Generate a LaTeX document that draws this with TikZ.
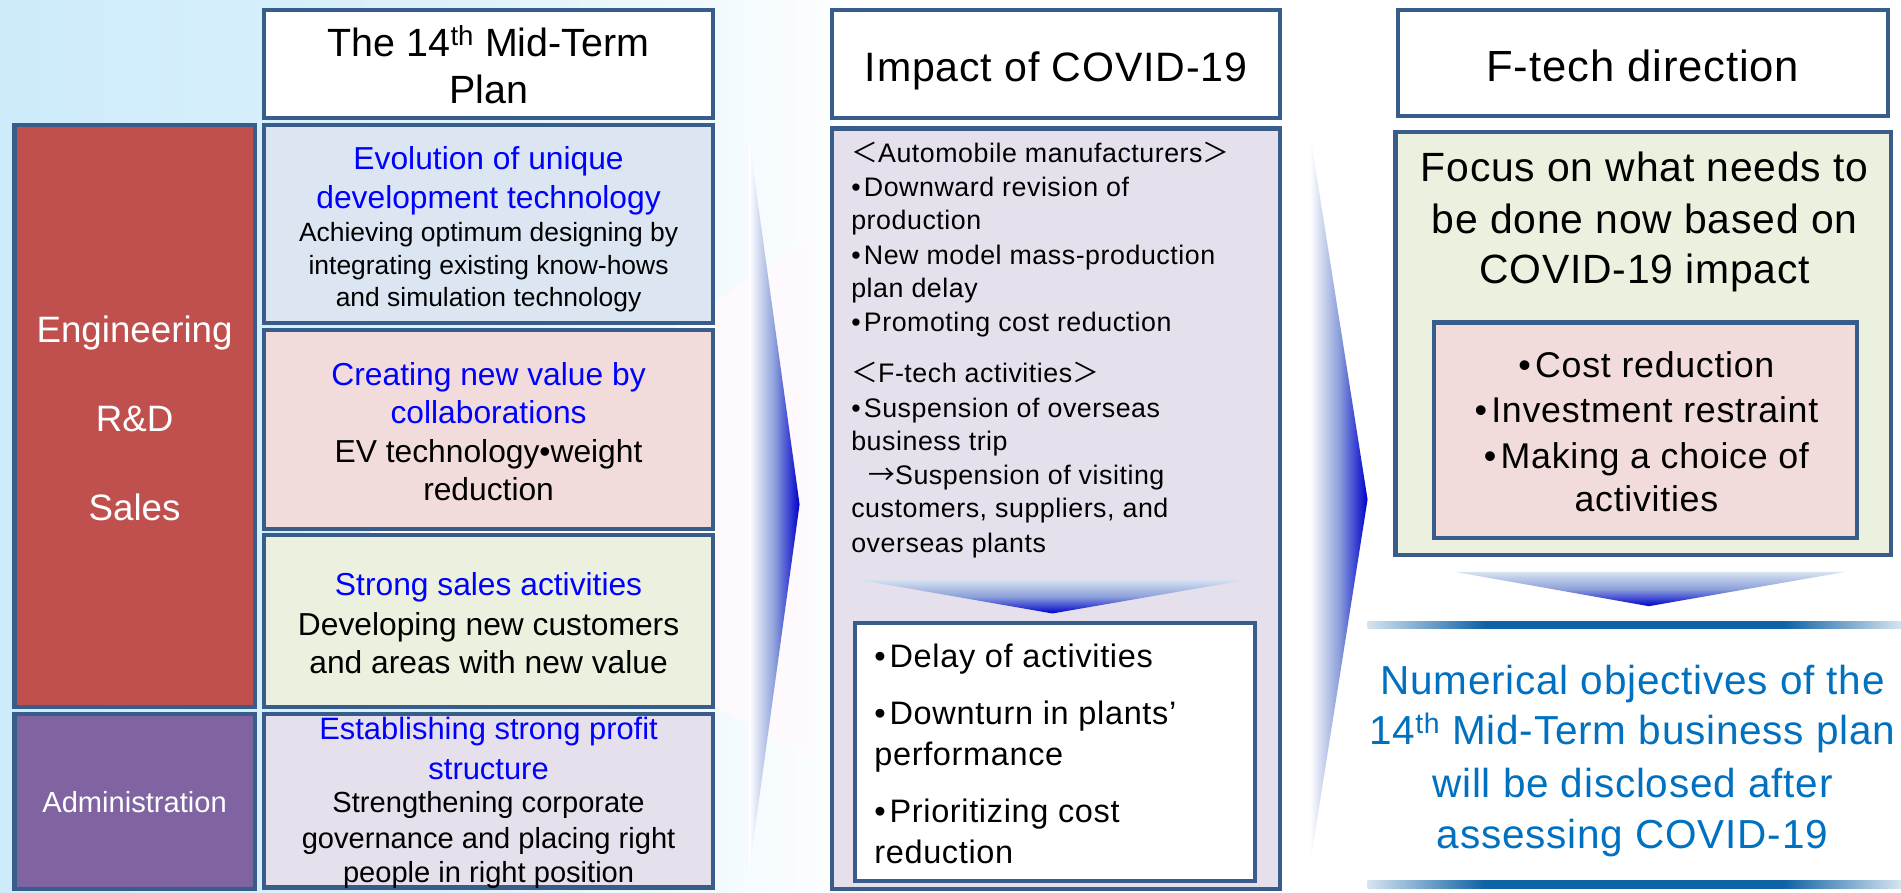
\documentclass[tikz,border=0pt]{standalone}
\usepackage{fontspec}
\setmainfont{Liberation Sans}
\newfontfamily\trackfont[LetterSpace=2]{Liberation Sans}
\newfontfamily\cjkfont{Noto Sans CJK JP}
\newcommand\bul{•\hspace{0.12em}}

\definecolor{edge}{RGB}{56,93,138}
\definecolor{redfill}{RGB}{192,80,77}
\definecolor{purplefill}{RGB}{128,100,162}
\definecolor{bluefill}{RGB}{220,230,242}
\definecolor{pinkfill}{RGB}{242,220,219}
\definecolor{greenfill}{RGB}{235,241,222}
\definecolor{lavfill}{RGB}{230,224,236}
\definecolor{headblue}{RGB}{0,0,255}
\definecolor{noteblue}{RGB}{0,112,192}
\definecolor{arrowblue}{RGB}{0,0,204}
\definecolor{chevmid}{RGB}{140,160,218}
\definecolor{chevtop}{RGB}{214,226,242}
\definecolor{bandblue}{RGB}{16,98,166}
\definecolor{bandpale}{RGB}{214,228,240}
\definecolor{skyblue}{RGB}{205,235,251}
\definecolor{pinkhaze}{RGB}{254,249,252}

\pgfdeclarehorizontalshading{skyfade}{100bp}{color(0bp)=(skyblue); color(25bp)=(skyblue); color(50bp)=(skyblue!70!white); color(75bp)=(white); color(100bp)=(white)}
\pgfdeclarehorizontalshading{bandshade}{100bp}{color(0bp)=(bandpale); color(25bp)=(bandpale); color(36bp)=(bandblue); color(64bp)=(bandblue); color(75bp)=(bandpale); color(100bp)=(bandpale)}

\tikzset{
  box/.style={draw=edge, line width=3.4pt, inner sep=0pt},
  lineC/.style={anchor=base, inner sep=0pt},
  lineL/.style={anchor=base west, inner sep=0pt},
  fs/.style={font=\fontsize{#1}{#1}\selectfont},
  trk/.style={font=\trackfont\fontsize{#1}{#1}\selectfont},
}

\begin{document}
\begin{tikzpicture}[x=1pt,y=-1pt]
  \useasboundingbox (0,0) rectangle (1568,736);
  % backdrop
  \fill[white] (0,0) rectangle (1568,736);
  \shade[shading=skyfade] (0,0) rectangle (720,736);
  \fill[pinkhaze] (300,436) -- (672,195) -- (672,625) -- cycle;

  % left column boxes
  \node[box, fill=white, minimum width=370pt, minimum height=89pt] (planbox) at (403,53) {};
  \node[box, fill=redfill, minimum width=198pt, minimum height=480.5pt] (engbox) at (111,343.25) {};
  \node[box, fill=purplefill, minimum width=198pt, minimum height=144pt] (adminbox) at (111,661) {};
  \node[box, fill=bluefill, minimum width=370pt, minimum height=163.6pt] (evobox) at (403,184.8) {};
  \node[box, fill=pinkfill, minimum width=370pt, minimum height=164.5pt] (collbox) at (403,354.25) {};
  \node[box, fill=greenfill, minimum width=370pt, minimum height=142.5pt] (salesbox) at (403,512.25) {};
  \node[box, fill=lavfill, minimum width=370pt, minimum height=143pt] (profbox) at (403,660.5) {};

  % middle column boxes
  \node[box, fill=white, minimum width=370pt, minimum height=89pt] (impbox) at (871,53) {};
  \node[box, fill=lavfill, minimum width=370pt, minimum height=627pt] (covbox) at (871,419.5) {};
  \node[box, fill=white, minimum width=330pt, minimum height=212.6pt] (effbox) at (870,620.3) {};

  % right column boxes
  \node[box, fill=white, minimum width=404pt, minimum height=87.6pt] (dirbox) at (1355,52.2) {};
  \node[box, fill=greenfill, minimum width=409pt, minimum height=348.7pt] (focbox) at (1355.5,283.35) {};
  \node[box, fill=pinkfill, minimum width=349pt, minimum height=177.6pt] (actbox) at (1357.5,354.8) {};

  % chevrons between the columns
  \coordinate (chevA1) at (618,116);   \coordinate (chevA2) at (659.5,416);  \coordinate (chevA3) at (618,718);
  \coordinate (chevB1) at (1080.5,110); \coordinate (chevB2) at (1128,412);  \coordinate (chevB3) at (1080.5,713.5);
  \shade[left color=white, right color=arrowblue, middle color=chevmid] (chevA1) -- (chevA2) -- (chevA3) -- cycle;
  \shade[left color=white, right color=arrowblue, middle color=chevmid] (chevB1) -- (chevB2) -- (chevB3) -- cycle;

  % downward chevrons
  \coordinate (downA1) at (707,478); \coordinate (downA2) at (1030,478); \coordinate (downA3) at (868,506);
  \coordinate (downB1) at (1200,471.7); \coordinate (downB2) at (1522,471.7); \coordinate (downB3) at (1360,500);
  \shade[top color=chevtop, bottom color=arrowblue, middle color=chevmid] (downA1) -- (downA2) -- (downA3) -- cycle;
  \shade[top color=chevtop, bottom color=arrowblue, middle color=chevmid] (downB1) -- (downB2) -- (downB3) -- cycle;

  % rules around the closing note
  \shade[shading=bandshade] (1128,512.6) rectangle (1568,518.7);
  \shade[shading=bandshade] (1128,726.6) rectangle (1568,733);

  % left column text
  \node[lineC, fs=32.5] (plan1) at (403,46.5) {The 14\textsuperscript{th} Mid-Term};
  \node[lineC, fs=32.5] (plan2) at (403,85.5) {Plan};

  \node[lineC, fs=30.3, text=white] (eng) at (111,282.2) {Engineering};
  \node[lineC, fs=30.3, text=white] (rnd) at (111,355.9) {R\&D};
  \node[lineC, fs=30.3, text=white] (sal) at (111,429.6) {Sales};
  \node[lineC, fs=24, text=white] (adm) at (111,670.5) {Administration};

  \node[lineC, fs=26.2, text=headblue] (evoA1) at (403,140) {Evolution of unique};
  \node[lineC, fs=26.2, text=headblue] (evoA2) at (403,172.3) {development technology};
  \foreach \t/\yy [count=\i] in {Achieving optimum designing by/199.3, integrating existing know-hows/226.1, and simulation technology/252.8}
    \node[lineC, fs=21.8] (evoB\i) at (403,\yy) {\t};

  \node[lineC, fs=26.2, text=headblue] (colA1) at (403,317.8) {Creating new value by};
  \node[lineC, fs=26.2, text=headblue] (colA2) at (403,349.7) {collaborations};
  \node[lineC, fs=26.2] (colB1) at (403,381.6) {EV technology•weight};
  \node[lineC, fs=26.2] (colB2) at (403,413.1) {reduction};

  \node[lineC, fs=26.2, text=headblue] (salA1) at (403,491.4) {Strong sales activities};
  \node[lineC, fs=26.2] (salB1) at (403,524.4) {Developing new customers};
  \node[lineC, fs=26.2] (salB2) at (403,555.4) {and areas with new value};

  \node[lineC, fs=25.5, text=headblue] (proA1) at (403,610) {Establishing strong profit};
  \node[lineC, fs=25.5, text=headblue] (proA2) at (403,642.9) {structure};
  \foreach \t/\yy [count=\i] in {Strengthening corporate/670.4, governance and placing right/699.6, people in right position/728.2}
    \node[lineC, fs=24] (proB\i) at (403,\yy) {\t};

  % middle column text
  \node[lineC, trk=33.9] (imp) at (871,67.6) {Impact of COVID-19};
  \node[lineL, trk=22.1] (covA0) at (702,133.8) {{\cjkfont ＜}Automobile manufacturers{\cjkfont ＞}};
  \foreach \t/\yy [count=\i] in {\bul Downward revision of/162, production/189.7, \bul New model mass-production/217.8, plan delay/245, \bul Promoting cost reduction/273.2}
    \node[lineL, trk=22.1] (covA\i) at (702,\yy) {\t};
  \node[lineL, trk=22.1] (covB0) at (702,315.5) {{\cjkfont ＜}F-tech activities{\cjkfont ＞}};
  \node[lineL, trk=22.1] (covB1) at (702,344.6) {\bul Suspension of overseas};
  \node[lineL, trk=22.1] (covB2) at (702,371.8) {business trip};
  \node[lineL, trk=22.1] (covB3) at (716,400) {{\cjkfont →}Suspension of visiting};
  \node[lineL, trk=22.1] (covB4) at (702,427.2) {customers, suppliers, and};
  \node[lineL, trk=22.1] (covB5) at (702,455.3) {overseas plants};

  \foreach \t/\yy [count=\i] in {\bul Delay of activities/550.3, \bul Downturn in plants’/597.3, performance/631.6, \bul Prioritizing cost/678.6, reduction/712.3}
    \node[lineL, trk=26.8] (eff\i) at (721,\yy) {\t};

  % right column text
  \node[lineC, trk=36] (dir) at (1355,67) {F-tech direction};
  \foreach \t/\yy [count=\i] in {Focus on what needs to/149.6, be done now based on/192.8, COVID-19 impact/233.7}
    \node[lineC, trk=33.7] (foc\i) at (1356.5,\yy) {\t};
  \foreach \t/\yy [count=\i] in {\bul Cost reduction/311, \bul Investment restraint/348.6, \bul Making a choice of/386.1, activities/422.3}
    \node[lineC, trk=29.5] (act\i) at (1358,\yy) {\t};

  \node[lineC, trk=33.4, text=noteblue] (note1) at (1346.5,573) {Numerical objectives of the};
  \node[lineC, trk=33.4, text=noteblue] (note2) at (1346.5,614.2) {14\textsuperscript{th} Mid-Term business plan};
  \node[lineC, trk=33.4, text=noteblue] (note3) at (1346.5,657.4) {will be disclosed after};
  \node[lineC, trk=33.4, text=noteblue] (note4) at (1346.5,699.7) {assessing COVID-19};
\end{tikzpicture}
\end{document}
